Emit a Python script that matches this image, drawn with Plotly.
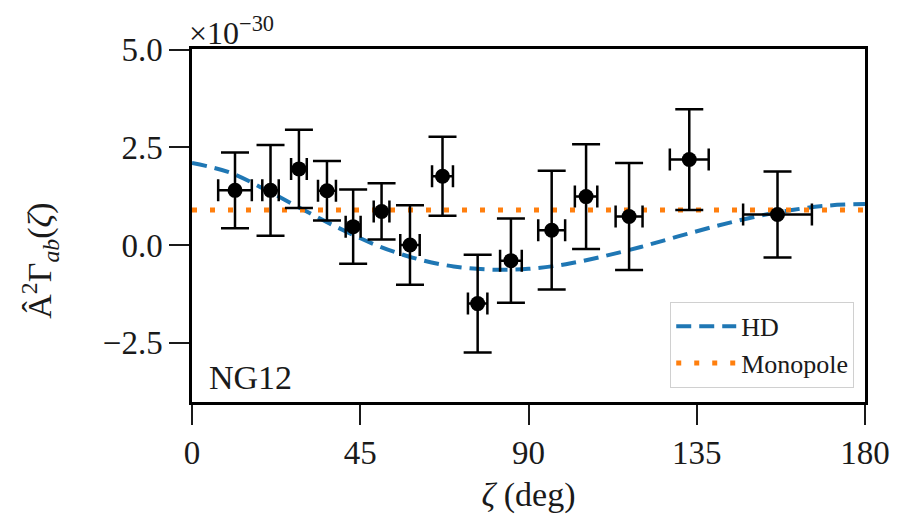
import plotly.graph_objects as go

# Binned cross-correlation measurements (units of 1e-30)
zeta = [11.5, 21.0, 28.6, 36.1, 43.1, 50.7, 58.3, 67.0, 76.4, 85.3, 96.2, 105.4, 116.9, 133.0, 156.6]
zeta_err = [4.5, 2.2, 2.1, 2.4, 2.0, 2.1, 2.6, 2.8, 2.6, 2.9, 3.6, 3.0, 3.6, 5.2, 9.2]
corr = [1.40, 1.40, 1.95, 1.39, 0.47, 0.86, 0.00, 1.76, -1.50, -0.40, 0.38, 1.24, 0.73, 2.19, 0.78]
corr_err = [0.97, 1.16, 1.00, 0.76, 0.95, 0.72, 1.02, 1.01, 1.25, 1.08, 1.52, 1.34, 1.37, 1.29, 1.10]

# Model curves
hd_zeta = [0, 10, 20, 30, 40, 50, 60, 70, 80, 90, 100, 110, 120, 130, 140, 150, 160, 170, 180]
hd_vals = [2.10, 1.86, 1.40, 0.89, 0.40, -0.03, -0.35, -0.55, -0.63, -0.61, -0.49, -0.29,
           -0.05, 0.22, 0.48, 0.71, 0.89, 1.01, 1.05]
mono_zeta = [0, 180]
mono_vals = [0.90, 0.90]

x_ticks = [0, 45, 90, 135, 180]
y_ticks = [-2.5, 0.0, 2.5, 5.0]

FONT = "Liberation Serif"
INK = "#1a1a1a"

fig = go.Figure()

fig.add_trace(go.Scatter(
    x=hd_zeta, y=hd_vals, mode="lines", name="HD", line_shape="spline",
    legendgroup="hd",
    line=dict(color="#1f77b4", width=4, dash="15px,8px"),
))
fig.add_trace(go.Scatter(
    x=mono_zeta, y=mono_vals, mode="lines", name="Monopole",
    legendgroup="mono",
    line=dict(color="#ff7f0e", width=5, dash="5px,13px"),
))
fig.add_trace(go.Scatter(
    x=zeta, y=corr, mode="markers", showlegend=False,
    marker=dict(color="black", size=15),
    error_y=dict(type="data", array=corr_err, color="black", thickness=2.5, width=14),
    error_x=dict(type="data", array=zeta_err, color="black", thickness=2.5, width=11),
))

fig.update_layout(
    width=907, height=524,
    margin=dict(l=192, r=42, t=49, b=122),
    paper_bgcolor="white", plot_bgcolor="white",
    font=dict(family=FONT, size=34, color=INK),
    showlegend=True,
    legend=dict(
        x=0.984, y=0.04, xanchor="right", yanchor="bottom",
        bgcolor="white", bordercolor="#d0d0d0", borderwidth=1,
        font=dict(family=FONT, size=26, color=INK),
        tracegroupgap=0, traceorder="grouped", itemwidth=60,
    ),
    annotations=[
        dict(text="NG12", xref="paper", yref="paper", x=0.022, y=0.07,
             xanchor="left", yanchor="middle", showarrow=False,
             font=dict(family=FONT, size=34, color=INK)),
        dict(text="×10<sup>−30</sup>", xref="paper", yref="paper", x=-0.008, y=0.99,
             xanchor="left", yanchor="bottom", showarrow=False,
             font=dict(family=FONT, size=32, color=INK)),
        dict(text="Â<sup>2</sup>Γ<sub><i>ab</i></sub>(<i>ζ</i>)", textangle=-90,
             xref="paper", yref="paper", x=-0.226, y=0.40,
             xanchor="center", yanchor="middle", showarrow=False,
             font=dict(family=FONT, size=34, color=INK)),
    ],
)

fig.update_xaxes(
    range=[0, 180], tickvals=x_ticks, ticktext=[str(v) for v in x_ticks],
    ticks="outside", ticklen=20, tickwidth=1.5, tickcolor=INK,
    showline=True, linecolor="black", linewidth=2.5, mirror=True,
    showgrid=False, zeroline=False, tickfont=dict(size=33),
    title=dict(text="<i>ζ</i> (deg)", font=dict(family=FONT, size=34), standoff=12),
)
fig.update_yaxes(
    range=[-4.02, 5.02], tickvals=y_ticks, tickformat=".1f",
    ticks="outside", ticklen=20, tickwidth=1.5, tickcolor=INK,
    showline=True, linecolor="black", linewidth=2.5, mirror=True,
    showgrid=False, zeroline=False, tickfont=dict(size=33),
)

fig.write_html("out.html")
